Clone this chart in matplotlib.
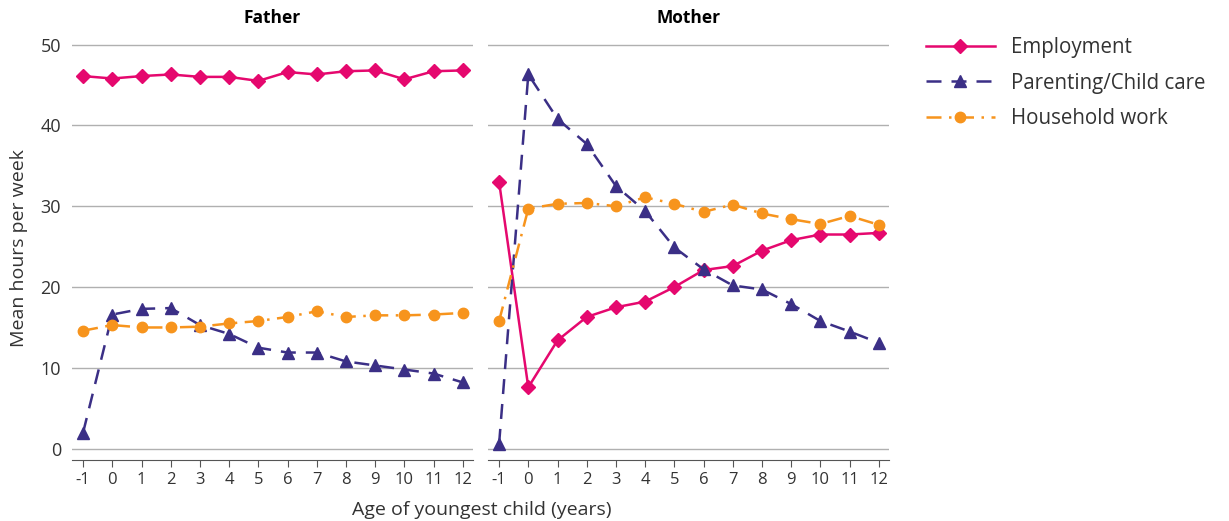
import matplotlib
matplotlib.use('Agg')
import matplotlib.pyplot as plt

plt.rcParams['font.family'] = ['Open Sans', 'DejaVu Sans']
plt.rcParams['axes.unicode_minus'] = False

# age of youngest child
ages = [-1, 0, 1, 2, 3, 4, 5, 6, 7, 8, 9, 10, 11, 12]

# Father
father_emp = [46.1, 45.8, 46.1, 46.3, 46.0, 46.0, 45.5, 46.6, 46.3, 46.7, 46.8, 45.7, 46.7, 46.8]
father_care = [2.0, 16.6, 17.3, 17.4, 15.3, 14.2, 12.5, 11.9, 11.9, 10.8, 10.3, 9.8, 9.3, 8.2]
father_house = [14.6, 15.3, 15.0, 15.0, 15.1, 15.5, 15.8, 16.3, 17.0, 16.3, 16.5, 16.5, 16.6, 16.8]

# Mother
mother_emp = [33.0, 7.6, 13.4, 16.3, 17.5, 18.2, 20.0, 22.1, 22.6, 24.5, 25.8, 26.5, 26.5, 26.7]
mother_care = [0.6, 46.3, 40.8, 37.7, 32.5, 29.4, 24.9, 22.2, 20.2, 19.7, 17.9, 15.8, 14.5, 13.1]
mother_house = [15.8, 29.7, 30.3, 30.4, 30.0, 31.1, 30.3, 29.3, 30.2, 29.1, 28.4, 27.8, 28.8, 27.7]

labels = ['Employment', 'Parenting/Child care', 'Household work']
pink = '#e5086e'
navy = '#3b2f86'
orange = '#f7941d'

fig = plt.figure(figsize=(12.29, 5.21), dpi=100)
ax1 = fig.add_axes([72 / 1229, 0.117, 401 / 1229, 0.813])
ax2 = fig.add_axes([488 / 1229, 0.117, 401 / 1229, 0.813])

panels = [(ax1, 'Father', father_emp, father_care, father_house),
          (ax2, 'Mother', mother_emp, mother_care, mother_house)]

for ax, title, emp, care, house in panels:
    ax.plot(ages, emp, color=pink, marker='D', markersize=7, lw=1.8, label=labels[0])
    ax.plot(ages, care, color=navy, marker='^', markersize=8, lw=1.8, ls=(0, (6, 4)), label=labels[1])
    ax.plot(ages, house, color=orange, marker='o', markersize=7.5, lw=1.8,
            ls=(0, (6, 3, 1, 3)), label=labels[2])
    ax.set_xlim(-1.38, 12.35)
    ax.set_ylim(-1.4, 51)
    ax.set_yticks([0, 10, 20, 30, 40, 50])
    ax.set_xticks(ages)
    ax.grid(axis='y', color='#b0b0b0', lw=1)
    ax.set_axisbelow(True)
    for s in ['top', 'right', 'left']:
        ax.spines[s].set_visible(False)
    ax.spines['bottom'].set_color('#555555')
    ax.tick_params(axis='y', length=0, labelsize=13, colors='#333333', pad=8)
    ax.tick_params(axis='x', length=5, color='#555555', labelsize=12, colors='#333333')
    ax.set_title(title, fontsize=12.5, fontweight='bold', pad=10)

ax2.tick_params(axis='y', labelleft=False)
ax1.set_ylabel('Mean hours per week', fontsize=14, color='#333333', labelpad=9)
fig.text(0.392, 0.012, 'Age of youngest child (years)', ha='center', fontsize=14, color='#333333')

h, l = ax2.get_legend_handles_labels()
fig.legend(h, l, loc='upper left', bbox_to_anchor=(0.738, 0.965), frameon=False,
           fontsize=14.8, handlelength=3.4, handletextpad=0.75, labelspacing=0.72, labelcolor='#333333')

fig.savefig('out.png', dpi=100)
